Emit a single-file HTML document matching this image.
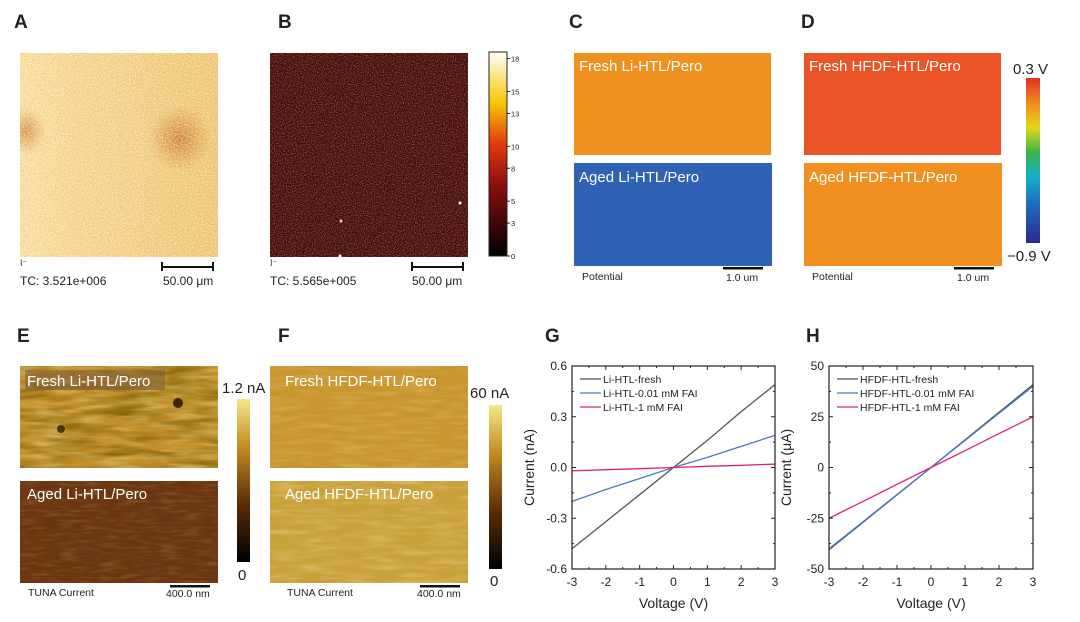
<!DOCTYPE html>
<html><head><meta charset="utf-8"><style>
body{margin:0;background:#fff;width:1080px;height:617px;overflow:hidden}
svg text{font-family:"Liberation Sans",sans-serif}
</style></head><body>
<svg id="fig" width="1080" height="617" viewBox="0 0 1080 617" xmlns="http://www.w3.org/2000/svg">
<defs>
<clipPath id="clipA"><rect x="20" y="53" width="198" height="204"/></clipPath>
<filter id="noiseA" x="0" y="0" width="100%" height="100%"><feTurbulence type="fractalNoise" baseFrequency="0.9" numOctaves="1" seed="3"/><feColorMatrix type="matrix" values="0 0 0 0 0.82  0 0 0 0 0.5  0 0 0 0 0.15  2.2 0 0 0 -0.9"/></filter>
<filter id="noiseA2" x="0" y="0" width="100%" height="100%"><feTurbulence type="fractalNoise" baseFrequency="0.9" numOctaves="1" seed="11"/><feColorMatrix type="matrix" values="0 0 0 0 1  0 0 0 0 0.97  0 0 0 0 0.85  2.2 0 0 0 -0.95"/></filter>
<filter id="noiseB" x="0" y="0" width="100%" height="100%"><feTurbulence type="fractalNoise" baseFrequency="0.9" numOctaves="1" seed="5"/><feColorMatrix type="matrix" values="0 0 0 0 0.6  0 0 0 0 0.12  0 0 0 0 0.1  2.2 0 0 0 -0.95"/></filter>
<filter id="mottle" x="0" y="0" width="100%" height="100%"><feTurbulence type="fractalNoise" baseFrequency="0.02 0.12" numOctaves="3" seed="8"/><feColorMatrix type="matrix" values="0 0 0 0 0.2  0 0 0 0 0.1  0 0 0 0 0  0 0 0 1.6 -0.55"/></filter>
<filter id="mottle2" x="0" y="0" width="100%" height="100%"><feTurbulence type="fractalNoise" baseFrequency="0.03 0.2" numOctaves="2" seed="2"/><feColorMatrix type="matrix" values="0 0 0 0 0.95  0 0 0 0 0.85  0 0 0 0 0.4  0 0 0 1.4 -0.55"/></filter>
<filter id="mottle3" x="0" y="0" width="100%" height="100%"><feTurbulence type="fractalNoise" baseFrequency="0.05 0.3" numOctaves="2" seed="4"/><feColorMatrix type="matrix" values="0 0 0 0 0.6  0 0 0 0 0.35  0 0 0 0 0.12  0 0 0 1.4 -0.6"/></filter>
<radialGradient id="spot"><stop offset="0" stop-color="#c0601a" stop-opacity="0.9"/><stop offset="1" stop-color="#c8701c" stop-opacity="0"/></radialGradient>
<linearGradient id="aGrad" x1="0" y1="0" x2="1" y2="0"><stop offset="0" stop-color="#fae2a4"/><stop offset="0.35" stop-color="#f5d488"/><stop offset="1" stop-color="#eec264"/></linearGradient>
<linearGradient id="cbHot" x1="0" y1="1" x2="0" y2="0"><stop offset="0" stop-color="#000"/><stop offset="0.35" stop-color="#8a1010"/><stop offset="0.55" stop-color="#e03a10"/><stop offset="0.75" stop-color="#f5c800"/><stop offset="1" stop-color="#fff"/></linearGradient>
<linearGradient id="cbJet" x1="0" y1="1" x2="0" y2="0"><stop offset="0" stop-color="#2b2a8c"/><stop offset="0.25" stop-color="#1c6fc0"/><stop offset="0.4" stop-color="#15b0c8"/><stop offset="0.55" stop-color="#3cb44a"/><stop offset="0.7" stop-color="#e3d81a"/><stop offset="0.85" stop-color="#f08a20"/><stop offset="1" stop-color="#e0302a"/></linearGradient>
<linearGradient id="cbAfm" x1="0" y1="1" x2="0" y2="0"><stop offset="0" stop-color="#000"/><stop offset="0.35" stop-color="#5a2c08"/><stop offset="0.7" stop-color="#c08a20"/><stop offset="1" stop-color="#f7e68a"/></linearGradient>
</defs>
<g font-weight="bold" font-size="19" fill="#222">
<text x="14" y="28">A</text>
<text x="278" y="28">B</text>
<text x="569" y="28">C</text>
<text x="801" y="28">D</text>
<text x="17" y="342">E</text>
<text x="278" y="342">F</text>
<text x="545" y="342">G</text>
<text x="806" y="342">H</text>
</g>
<!-- A -->
<g clip-path="url(#clipA)">
<rect x="20" y="53" width="198" height="204" fill="url(#aGrad)"/>
<ellipse cx="180" cy="138" rx="32" ry="34" fill="url(#spot)"/>
<ellipse cx="26" cy="131" rx="20" ry="24" fill="url(#spot)" opacity="0.8"/>
<rect x="20" y="53" width="198" height="204" filter="url(#noiseA)"/>
<rect x="20" y="53" width="198" height="204" filter="url(#noiseA2)"/>
</g>
<text x="20" y="266" font-size="9" fill="#333">I⁻</text>
<text x="20" y="285" font-size="12" fill="#222">TC: 3.521e+006</text>
<path d="M162 262v9M162 267h51M213 262v9" stroke="#111" stroke-width="2" fill="none"/>
<text x="163" y="285" font-size="12" fill="#222">50.00 μm</text>
<!-- B -->
<g>
<rect x="270" y="53" width="198" height="204" fill="#3a0d0a"/>
<rect x="270" y="53" width="198" height="204" filter="url(#noiseB)"/>
<circle cx="460" cy="203" r="1.5" fill="#ffe"/><circle cx="341" cy="221" r="1.5" fill="#fc8"/><circle cx="340" cy="256" r="1.5" fill="#fff"/>
</g>
<text x="270" y="266" font-size="9" fill="#333">I⁻</text>
<text x="270" y="285" font-size="12" fill="#222">TC: 5.565e+005</text>
<path d="M412 262v9M412 267h51M463 262v9" stroke="#111" stroke-width="2" fill="none"/>
<text x="412" y="285" font-size="12" fill="#222">50.00 μm</text>
<rect x="489" y="52" width="18" height="204" fill="url(#cbHot)" stroke="#222"/>
<g font-size="7.5" fill="#222" id="cbBticks"></g>
<!-- C -->
<rect x="574" y="53" width="197" height="102" fill="#f0901e"/>
<rect x="574" y="163" width="198" height="103" fill="#2f61b5"/>
<!-- D -->
<rect x="804" y="53" width="197" height="102" fill="#ea5426"/>
<rect x="804" y="163" width="198" height="103" fill="#f09020"/>
<g font-size="15" fill="#fff"><text x="579" y="71">Fresh Li-HTL/Pero</text><text x="579" y="182">Aged Li-HTL/Pero</text>
<text x="809" y="71">Fresh HFDF-HTL/Pero</text><text x="809" y="182">Aged HFDF-HTL/Pero</text></g>
<text x="582" y="280" font-size="10.5" fill="#222">Potential</text>
<rect x="723" y="267" width="40" height="2.5" fill="#111"/><text x="726" y="281" font-size="10.5" fill="#222">1.0 um</text>
<text x="812" y="280" font-size="10.5" fill="#222">Potential</text>
<rect x="954" y="267" width="40" height="2.5" fill="#111"/><text x="957" y="281" font-size="10.5" fill="#222">1.0 um</text>
<rect x="1026" y="78" width="14" height="165" fill="url(#cbJet)"/>
<text x="1013" y="74" font-size="15" fill="#222">0.3 V</text>
<text x="1007" y="261" font-size="15" fill="#222">−0.9 V</text>
<!-- E -->
<g>
<rect x="20" y="366" width="198" height="102" fill="#c2902a"/>
<rect x="20" y="366" width="198" height="102" filter="url(#mottle)"/>
<rect x="20" y="366" width="198" height="102" filter="url(#mottle2)" opacity="0.6"/>
<circle cx="178" cy="403" r="5" fill="#1a0c00" opacity="0.8"/><circle cx="61" cy="429" r="4" fill="#1a0c00" opacity="0.7"/>
</g>
<g>
<rect x="20" y="481" width="198" height="102" fill="#6b3510"/>
<rect x="20" y="481" width="198" height="102" filter="url(#mottle3)" opacity="0.4"/>
</g>
<rect x="25" y="370" width="140" height="20" fill="#7a5a3a" opacity="0.55"/>
<g font-size="15" fill="#fff"><text x="27" y="386">Fresh Li-HTL/Pero</text><text x="27" y="499">Aged Li-HTL/Pero</text></g>
<rect x="237" y="399" width="13" height="163" fill="url(#cbAfm)"/>
<text x="222" y="393" font-size="15" fill="#222">1.2 nA</text><text x="238" y="580" font-size="15" fill="#222">0</text>
<text x="28" y="596" font-size="10.5" fill="#222">TUNA Current</text>
<rect x="170" y="585" width="40" height="2.5" fill="#111"/><text x="166" y="597" font-size="10.5" fill="#222">400.0 nm</text>
<!-- F -->
<rect x="270" y="366" width="198" height="102" fill="#c8952e"/>
<rect x="270" y="481" width="198" height="102" fill="#caa03a"/>
<rect x="270" y="366" width="198" height="102" filter="url(#mottle2)" opacity="0.35"/>
<rect x="270" y="481" width="198" height="102" filter="url(#mottle2)" opacity="0.45"/>
<g font-size="15" fill="#fff"><text x="285" y="386">Fresh HFDF-HTL/Pero</text><text x="285" y="499">Aged HFDF-HTL/Pero</text></g>
<rect x="489" y="405" width="13" height="164" fill="url(#cbAfm)"/>
<text x="470" y="398" font-size="15" fill="#222">60 nA</text><text x="490" y="586" font-size="15" fill="#222">0</text>
<text x="287" y="596" font-size="10.5" fill="#222">TUNA Current</text>
<rect x="420" y="585" width="40" height="2.5" fill="#111"/><text x="417" y="597" font-size="10.5" fill="#222">400.0 nm</text>
<g id="chartG"></g>
<g id="chartH"></g>
</svg>
<script>
const voltages=[-3,-2,-1,0,1,2,3];
const gFresh=[-0.48,-0.32,-0.16,0,0.16,0.33,0.49];
const gLow=[-0.2,-0.13,-0.065,0,0.06,0.125,0.19];
const gHigh=[-0.02,-0.013,-0.007,0,0.007,0.013,0.02];
const gTicks=[-0.6,-0.3,0,0.3,0.6];
const gTickLabels=["-0.6","-0.3","0.0","0.3","0.6"];
const hFresh=[-40.5,-27,-13.5,0,13.6,27.2,40.8];
const hLow=[-40,-26.7,-13.3,0,13.3,26.7,40];
const hHigh=[-25,-16.7,-8.3,0,8.3,16.7,25];
const hTicks=[-50,-25,0,25,50];
const hTickLabels=["-50","-25","0","25","50"];
const xTicks=[-3,-2,-1,0,1,2,3];
const gLegend=["Li-HTL-fresh","Li-HTL-0.01 mM FAI","Li-HTL-1 mM FAI"];
const hLegend=["HFDF-HTL-fresh","HFDF-HTL-0.01 mM FAI","HFDF-HTL-1 mM FAI"];
const NS="http://www.w3.org/2000/svg";
function mk(p,t,a){const e=document.createElementNS(NS,t);for(const k in a)e.setAttribute(k,a[k]);p.appendChild(e);return e;}
function chart(g,x0,x1,y0,y1,ymin,ymax,ticks,tl,series,names,ytitle){
 const sx=v=>x0+(v+3)/6*(x1-x0), sy=v=>y1-(v-ymin)/(ymax-ymin)*(y1-y0);
 const colors=["#555","#4a7bbf","#e0207a"];
 series.forEach((s,i)=>{const l=mk(g,'polyline',{points:s.map((v,j)=>sx(voltages[j])+','+sy(v)).join(' '),fill:'none',stroke:colors[i],'stroke-width':1.3});
  
  });
 mk(g,'rect',{x:x0,y:y0,width:x1-x0,height:y1-y0,fill:'none',stroke:'#222','stroke-width':1.2});
 xTicks.forEach(v=>{const x=sx(v);mk(g,'line',{x1:x,x2:x,y1:y1,y2:y1-4,stroke:'#222'});mk(g,'line',{x1:x,x2:x,y1:y0,y2:y0+4,stroke:'#222'});
  const t=mk(g,'text',{x:x,y:y1+17,'text-anchor':'middle','font-size':12,fill:'#222'});t.textContent=v;
  if(v<3){const xm=sx(v+0.5);mk(g,'line',{x1:xm,x2:xm,y1:y1,y2:y1-2,stroke:'#222'});mk(g,'line',{x1:xm,x2:xm,y1:y0,y2:y0+2,stroke:'#222'});}});
 ticks.forEach((v,i)=>{const y=sy(v);mk(g,'line',{x1:x0,x2:x0+4,y1:y,y2:y,stroke:'#222'});mk(g,'line',{x1:x1,x2:x1-4,y1:y,y2:y,stroke:'#222'});
  const t=mk(g,'text',{x:x0-5,y:y+4,'text-anchor':'end','font-size':12,fill:'#222'});t.textContent=tl[i];
  if(i<ticks.length-1){const ym=sy((v+ticks[i+1])/2);mk(g,'line',{x1:x0,x2:x0+2,y1:ym,y2:ym,stroke:'#222'});mk(g,'line',{x1:x1,x2:x1-2,y1:ym,y2:ym,stroke:'#222'});}});
 const xt=mk(g,'text',{x:(x0+x1)/2,y:y1+39,'text-anchor':'middle','font-size':14,fill:'#222'});xt.textContent='Voltage (V)';
 
 
 const yt=mk(g,'text',{x:0,y:0,'text-anchor':'middle','font-size':14,fill:'#222',transform:`translate(${x0-38},${(y0+y1)/2}) rotate(-90)`});yt.textContent=ytitle;
 
 
 names.forEach((n,i)=>{const y=y0+13+i*14;mk(g,'line',{x1:x0+8,x2:x0+29,y1:y,y2:y,stroke:colors[i],'stroke-width':1.3});
  const t=mk(g,'text',{x:x0+31,y:y+4,'font-size':10.5,fill:'#222'});t.textContent=n;
  
  });
}
chart(document.getElementById('chartG'),572,775,366,569,-0.6,0.6,gTicks,gTickLabels,[gFresh,gLow,gHigh],gLegend,'Current (nA)');
chart(document.getElementById('chartH'),829,1033,366,569,-50,50,hTicks,hTickLabels,[hFresh,hLow,hHigh],hLegend,'Current (μA)');
const cbB=document.getElementById('cbBticks');
[0,3,5,8,10,13,15,18].forEach(v=>{const y=256-v/18.6*204;mk(cbB,'line',{x1:507,x2:510,y1:y,y2:y,stroke:'#222'});const t=mk(cbB,'text',{x:511,y:y+3});t.textContent=v;});
</script>
</body></html>
